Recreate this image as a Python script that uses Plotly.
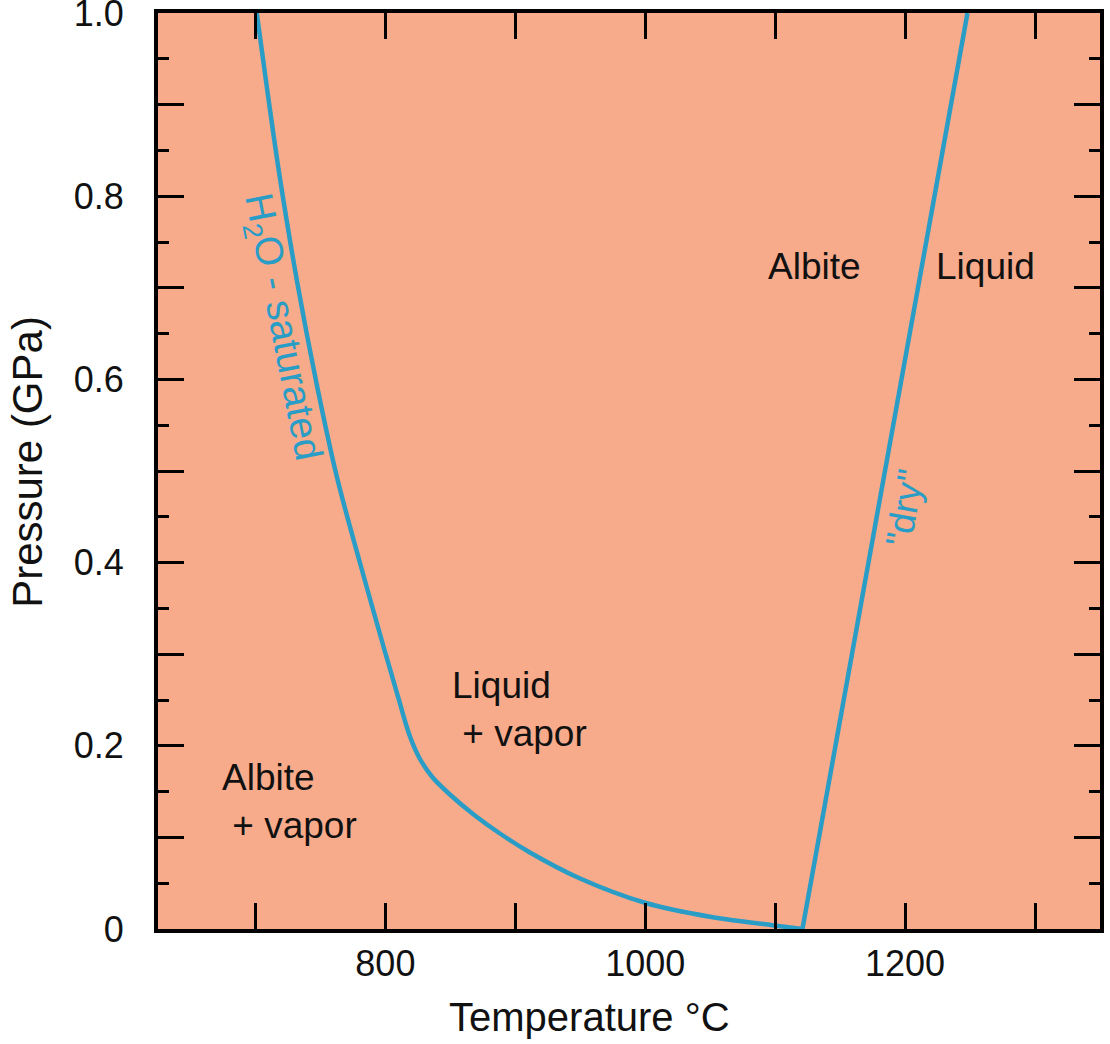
import plotly.graph_objects as go

# ---- data ----
h2o_T = [701, 709.5, 718.7, 732.5, 747.1, 762.5, 780.9, 799.3, 810, 818.5, 826.2, 836.1, 849.2,
         868.4, 887.6, 910.6, 949, 1000.4, 1051, 1102.5, 1121]
h2o_P = [1.0, 0.9116, 0.821, 0.7031, 0.595, 0.4945, 0.3974, 0.3046, 0.2522, 0.2118, 0.1867, 0.1659,
         0.1474, 0.1245, 0.1048, 0.0841, 0.0557, 0.0284, 0.0131, 0.0033, 0.0]

dry_T = [1121, 1248]
dry_P = [0.0, 1.0]

x_tickvals = [700, 800, 900, 1000, 1100, 1200, 1300]
x_ticktext = ["", "800", "", "1000", "", "1200", ""]
y_tickvals = [0, 0.1, 0.2, 0.3, 0.4, 0.5, 0.6, 0.7, 0.8, 0.9, 1.0]
y_ticktext = ["0", "", "0.2", "", "0.4", "", "0.6", "", "0.8", "", "1.0"]

region_labels = ["Albite", "Liquid", "Liquid<br>&nbsp;+ vapor", "Albite<br>&nbsp;+ vapor"]
region_T = [1130, 1262, 850, 673]
region_P = [0.723, 0.723, 0.240, 0.139]
region_anchor = ["center", "center", "left", "left"]

curve_labels = ["H<sub>2</sub>O - saturated", "\"dry\""]
curve_label_T = [720, 1200]
curve_label_P = [0.657, 0.46]
curve_label_angle = [79, -80]

LINE = "#2A9DC6"
BG = "#F7AB8B"
FONT = "Liberation Sans, Arial, Helvetica, sans-serif"
INK = "#111111"

fig = go.Figure()
fig.add_trace(go.Scatter(x=h2o_T, y=h2o_P, mode="lines",
                         line=dict(color=LINE, width=4.5, shape="spline", smoothing=1.0),
                         showlegend=False, hoverinfo="skip"))
fig.add_trace(go.Scatter(x=dry_T, y=dry_P, mode="lines", line=dict(color=LINE, width=4.5),
                         showlegend=False, hoverinfo="skip"))

annotations = []
for txt, t, p, anc in zip(region_labels, region_T, region_P, region_anchor):
    annotations.append(dict(x=t, y=p, xref="x", yref="y", text=txt, showarrow=False,
                            xanchor=anc, yanchor="middle", align="left",
                            font=dict(family=FONT, size=37, color=INK)))
for txt, t, p, ang, sz in zip(curve_labels, curve_label_T, curve_label_P, curve_label_angle, [39, 37]):
    annotations.append(dict(x=t, y=p, xref="x", yref="y", text=txt, showarrow=False,
                            textangle=ang, xanchor="center", yanchor="middle",
                            font=dict(family=FONT, size=sz, color=LINE)))
# axis titles
annotations.append(dict(x=0.458, y=-0.096, xref="paper", yref="paper", text="Temperature °C",
                        showarrow=False, xanchor="center", yanchor="middle",
                        font=dict(family=FONT, size=40, color=INK)))
annotations.append(dict(x=-0.138, y=0.51, xref="paper", yref="paper", text="Pressure (GPa)",
                        showarrow=False, textangle=-90, xanchor="center", yanchor="middle",
                        font=dict(family=FONT, size=42, color=INK)))

fig.update_layout(
    width=1110, height=1044,
    margin=dict(l=158, r=10, t=13, b=115, autoexpand=False),
    paper_bgcolor="white", plot_bgcolor=BG,
    font=dict(family=FONT, size=36, color=INK),
    annotations=annotations,
    showlegend=False,
)
fig.update_xaxes(range=[625, 1350], tickvals=x_tickvals, ticktext=x_ticktext,
                 ticks="inside", ticklen=26, tickwidth=3, tickcolor="black",
                 showline=True, linecolor="black", linewidth=4, mirror="allticks",
                 showgrid=False, zeroline=False, ticklabelstandoff=0,
                 ticklabeloverflow="allow", automargin=False,
                 tickfont=dict(family=FONT, size=36, color=INK))
fig.update_yaxes(range=[0, 1.0], tickvals=y_tickvals, ticktext=y_ticktext,
                 ticks="inside", ticklen=26, tickwidth=3, tickcolor="black",
                 minor=dict(dtick=0.05, tick0=0, ticks="inside", ticklen=11, tickwidth=3, tickcolor="black"),
                 showline=True, linecolor="black", linewidth=4, mirror="allticks",
                 showgrid=False, zeroline=False, ticklabelstandoff=23,
                 ticklabeloverflow="allow", automargin=False,
                 tickfont=dict(family=FONT, size=36, color=INK))

fig.write_html("out.html", config={"displayModeBar": False},
               post_script="document.body.style.margin='0';")
